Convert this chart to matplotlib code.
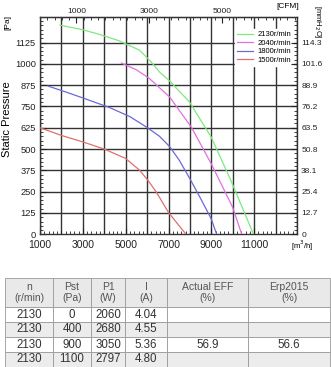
import matplotlib
matplotlib.use("Agg")
import matplotlib.pyplot as plt
from matplotlib.ticker import MultipleLocator, FixedLocator

plt.rcParams["font.family"] = ["Liberation Sans", "DejaVu Sans"]

# fan curves: airflow [m3/h] vs static pressure [Pa]
q_2130 = [1930, 3000, 3790, 4700, 5650, 6200, 6580, 7050, 7980, 8990, 9910, 10970]
p_2130 = [1227, 1200, 1172, 1135, 1080, 1010, 952, 900, 776, 571, 317, 0]
q_2040 = [4800, 5500, 6100, 6580, 7050, 8060, 8990, 9990, 10420]
p_2040 = [1005, 965, 915, 860, 806, 630, 415, 160, 0]
q_1800 = [1390, 2200, 3000, 4260, 5200, 5960, 6580, 7050, 7500, 7980, 8500, 8990, 9250]
p_1800 = [869, 835, 800, 743, 690, 630, 575, 515, 435, 330, 210, 92, 0]
q_1500 = [1000, 2000, 3000, 4000, 5000, 5650, 6050, 6430, 7000, 7400, 7820]
p_1500 = [625, 580, 542, 500, 445, 376, 315, 248, 128, 65, 0]

series = [
    ("2130r/min", q_2130, p_2130, "#7ee87e"),
    ("2040r/min", q_2040, p_2040, "#e070e0"),
    ("1800r/min", q_1800, p_1800, "#6a6ad8"),
    ("1500r/min", q_1500, p_1500, "#e07070"),
]

pa_ticks = [0, 125, 250, 375, 500, 625, 750, 875, 1000, 1125]
mm_labels = ["0", "12.7", "25.4", "38.1", "50.8", "63.5", "76.2", "88.9", "101.6", "114.3"]
q_labels = [1000, 3000, 5000, 7000, 9000, 11000]
cfm_labels = [1000, 3000, 5000]

col_labels = ["n\n(r/min)", "Pst\n(Pa)", "P1\n(W)", "I\n(A)", "Actual EFF\n(%)", "Erp2015\n(%)"]
n_col = ["2130", "2130", "2130", "2130"]
pst_col = ["0", "400", "900", "1100"]
p1_col = ["2060", "2680", "3050", "2797"]
i_col = ["4.04", "4.55", "5.36", "4.80"]
eff_col = ["", "", "56.9", ""]
erp_col = ["", "", "56.6", ""]

W, H = 331, 367
fig = plt.figure(figsize=(W / 100, H / 100), dpi=100)
ax = fig.add_axes([40 / W, 1 - 234.3 / H, 257 / W, 217 / H])

for label, q, p, c in series:
    ax.plot(q, p, color=c, lw=0.9, label=label, zorder=3)

ax.set_xlim(1000, 13000)
ax.set_ylim(0, 1273)
ax.set_xticks(q_labels)
ax.set_xticklabels([str(v) for v in q_labels], fontsize=7.5)
ax.xaxis.set_minor_locator(MultipleLocator(200))
ax.set_yticks(pa_ticks)
ax.set_yticklabels([str(v) for v in pa_ticks], fontsize=6.7)
ax.yaxis.set_minor_locator(MultipleLocator(25))
ax.tick_params(which="both", direction="in", colors="#222", pad=3)
ax.tick_params(which="major", length=4, width=0.8)
ax.tick_params(which="minor", length=2.5, width=0.6)
ax.tick_params(axis="x", labelsize=7.5, pad=4)

for x in range(1000, 13001, 1000):
    ax.axvline(x, color="#333", lw=1.0, zorder=1)
for y in pa_ticks[1:]:
    ax.axhline(y, color="#333", lw=1.0, zorder=1)
for s in ax.spines.values():
    s.set_linewidth(1.0)
    s.set_color("#333")

ax.set_ylabel("Static Pressure", fontsize=8)
ax.yaxis.set_label_coords(-0.11, 0.53)
fig.text(8 / W, 1 - 22 / H, "[Pa]", rotation=90, fontsize=6, ha="center", va="center")
fig.text(302 / W, 1 - 246 / H, "[m$^3$/h]", fontsize=5.5, ha="center", va="center")
fig.text(288 / W, 1 - 7 / H, "[CFM]", fontsize=6, ha="center", va="center")
fig.text(318 / W, 1 - 22 / H, "[mmH$_2$O]", rotation=-90, fontsize=5.5, ha="center", va="center")

ax2 = ax.twinx()
ax2.set_ylim(ax.get_ylim())
ax2.set_yticks(pa_ticks)
ax2.set_yticklabels(mm_labels, fontsize=6)
ax2.yaxis.set_minor_locator(MultipleLocator(25))
ax2.tick_params(which="both", direction="in", colors="#222")
ax2.tick_params(which="major", length=4, width=0.8, pad=3)
ax2.tick_params(which="minor", length=2.5, width=0.6)
for s in ax2.spines.values():
    s.set_visible(False)

top = ax.secondary_xaxis("top", functions=(lambda q: (q - 1000) / 1.699, lambda c: c * 1.699 + 1000))
top.set_xticks(cfm_labels)
top.set_xticklabels([str(v) for v in cfm_labels], fontsize=6)
top.xaxis.set_minor_locator(MultipleLocator(200))
top.tick_params(which="both", direction="in", colors="#222")
top.tick_params(which="major", length=4, width=0.8, pad=2)
top.tick_params(which="minor", length=2.5, width=0.6)

leg = ax.legend(loc="upper right", bbox_to_anchor=(1.0, 0.965), fontsize=5.5, frameon=True,
                fancybox=False, edgecolor="white", framealpha=1, handlelength=2.0,
                labelspacing=0.15, borderpad=0.3, handletextpad=0.6)
leg.set_zorder(5)

# performance table
tax = fig.add_axes([5 / W, 0, 325 / W, 89 / H])
tax.axis("off")
rows = list(zip(n_col, pst_col, p1_col, i_col, eff_col, erp_col))
widths = [48, 38, 34, 42, 81, 82]
tot = sum(widths)
tbl = tax.table(cellText=rows, colLabels=col_labels, colWidths=[w / tot for w in widths],
                cellLoc="center", bbox=[0, 0, 1, 1])
tbl.auto_set_font_size(False)
head_h = 29 / 89
row_h = (1 - head_h) / 4
for (r, c), cell in tbl.get_celld().items():
    cell.set_edgecolor("#9a9a9a")
    cell.set_linewidth(0.6)
    if r == 0:
        cell.set_height(head_h)
        cell.set_facecolor("#e9e9e9")
        cell.get_text().set_fontsize(7.5)
        cell.get_text().set_color("#555")
        cell.get_text().set_linespacing(1.1)
    else:
        cell.set_height(row_h)
        cell.set_facecolor("#ececec" if r % 2 == 0 else "white")
        cell.get_text().set_fontsize(8.3)
        cell.get_text().set_color("#333")

fig.savefig("out.png", dpi=100)
